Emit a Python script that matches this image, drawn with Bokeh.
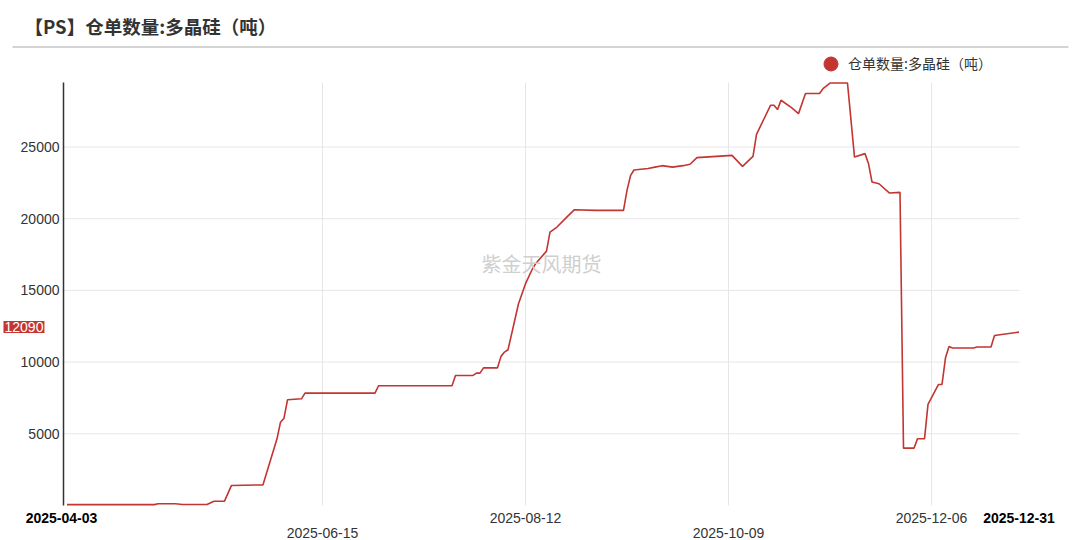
import pandas as pd
from bokeh.plotting import figure
from bokeh.models import Label, Range1d, Legend, LegendItem, ColumnDataSource
from bokeh.core.properties import value
from bokeh.embed import file_html
from bokeh.resources import INLINE

# ---------------- data ----------------
dates = [
    "2025-04-03", "2025-04-28", "2025-04-29", "2025-05-04", "2025-05-06", "2025-05-13",
    "2025-05-15", "2025-05-18", "2025-05-20", "2025-05-29", "2025-06-02", "2025-06-03",
    "2025-06-04", "2025-06-05", "2025-06-09", "2025-06-10", "2025-06-30", "2025-07-01",
    "2025-07-22", "2025-07-23", "2025-07-28", "2025-07-29", "2025-07-30", "2025-07-31",
    "2025-08-04", "2025-08-05", "2025-08-06", "2025-08-07", "2025-08-10", "2025-08-12",
    "2025-08-14", "2025-08-15", "2025-08-18", "2025-08-19", "2025-08-21", "2025-08-24",
    "2025-08-26", "2025-09-01", "2025-09-09", "2025-09-10", "2025-09-11", "2025-09-12",
    "2025-09-16", "2025-09-18", "2025-09-20", "2025-09-23", "2025-09-26", "2025-09-28",
    "2025-09-30", "2025-10-10", "2025-10-13", "2025-10-16", "2025-10-17", "2025-10-21",
    "2025-10-22", "2025-10-23", "2025-10-24", "2025-10-27", "2025-10-29", "2025-10-31",
    "2025-11-04", "2025-11-05", "2025-11-07", "2025-11-12", "2025-11-14", "2025-11-17",
    "2025-11-18", "2025-11-19", "2025-11-21", "2025-11-24", "2025-11-27", "2025-11-28",
    "2025-12-01", "2025-12-02", "2025-12-04", "2025-12-05", "2025-12-08", "2025-12-09",
    "2025-12-10", "2025-12-11", "2025-12-12", "2025-12-18", "2025-12-19", "2025-12-23",
    "2025-12-24", "2025-12-31",
]
stock = [
    60, 60, 120, 120, 70, 70,
    300, 300, 1400, 1440, 4650, 5810,
    6090, 7370, 7440, 7840, 7840, 8350,
    8350, 9070, 9070, 9230, 9230, 9600,
    9600, 10400, 10700, 10860, 14070, 15470,
    16510, 16900, 17740, 19070, 19420, 20160,
    20630, 20580, 20580, 21980, 23000, 23400,
    23500, 23600, 23700, 23600, 23700, 23800,
    24260, 24420, 23650, 24350, 25880, 27910,
    27910, 27610, 28260, 27750, 27330, 28730,
    28730, 29070, 29460, 29460, 24300, 24540,
    23840, 22560, 22440, 21790, 21840, 4000,
    4000, 4650, 4650, 7050, 8440, 8440,
    10300, 11090, 10980, 10980, 11050, 11050,
    11860, 12090,
]
y_ticks = [5000, 10000, 15000, 20000, 25000]
grid_dates = ["2025-06-15", "2025-08-12", "2025-10-09", "2025-12-06"]
row1_labels = ["2025-04-03", "2025-08-12", "2025-12-06", "2025-12-31"]
row2_labels = ["2025-06-15", "2025-10-09"]
bold_labels = ["2025-04-03", "2025-12-31"]
title_text = "【PS】仓单数量:多晶硅（吨）"
series_name = "仓单数量:多晶硅（吨）"
last_label = "12090"
watermark = "紫金天风期货"

RED = "#c23531"
CJK = "Noto Sans CJK SC"
LAT = "Liberation Sans"
GRID = "#e6e6e6"


def ms(s):
    return pd.Timestamp(s).value / 1e6


DAY = 86400000.0
# ---------------- layout (frame = whole canvas) ----------------
W, H = 1080, 540
PL, PR, PT, PB = 63, 1019, 82, 505          # plot area inside the canvas (px)
PX_PER_DAY = 3.5
REF_MS, REF_PX = ms("2025-06-15"), 322.0
Y_TOP = 29500                                # value at the plot area's top edge


def xpx(px):
    return REF_MS + (px - REF_PX) / PX_PER_DAY * DAY


def ypx(py):
    return (PB - py) / (PB - PT) * Y_TOP


X_AXIS, X_END = xpx(PL), xpx(PR)

p = figure(width=W, height=H, x_range=Range1d(xpx(0), xpx(W)),
           y_range=Range1d(ypx(H), ypx(0)),
           output_backend="svg", toolbar_location=None,
           min_border=0, min_border_left=0, min_border_right=0,
           min_border_top=0, min_border_bottom=0)
p.axis.visible = False
p.grid.visible = False
p.outline_line_color = None
p.background_fill_color = "white"
p.border_fill_color = "white"

# grid lines
gx = [ms(d) for d in grid_dates]
p.segment(x0=gx, y0=[0] * len(gx), x1=gx, y1=[Y_TOP] * len(gx),
          line_color=GRID, line_width=1)
p.segment(x0=[X_AXIS] * len(y_ticks), y0=y_ticks, x1=[X_END] * len(y_ticks), y1=y_ticks,
          line_color=GRID, line_width=1)

# y axis line and tick labels
p.segment(x0=[X_AXIS], y0=[0], x1=[X_AXIS], y1=[Y_TOP], line_color="#333333", line_width=1.5)
p.text(x=[X_AXIS] * len(y_ticks), y=y_ticks, text=[str(t) for t in y_ticks],
       x_offset=-4, text_align="right", text_baseline="middle",
       text_font=value(LAT), text_font_size="14px", text_color="#333333")

# watermark
p.add_layout(Label(x=xpx(541), y=ypx(263), text=watermark, text_align="center",
                   text_baseline="middle", text_font=CJK, text_font_size="20px",
                   text_color="#cfcfcf"))

src = ColumnDataSource(data=dict(x=[ms(d) for d in dates], y=stock))
line_r = p.line("x", "y", source=src, line_color=RED, line_width=1.6)

# legend (marker renderer: last point, hidden in the plot, shown in the legend)
marker_r = p.scatter(x=[ms(dates[-1])], y=[stock[-1]], marker="circle", size=14,
                     fill_color=RED, line_color=RED, visible=False)
legend = Legend(items=[LegendItem(label=series_name, renderers=[marker_r])],
                location=(813, H - 45.5 - 35), glyph_width=35, glyph_height=35,
                label_standoff=0, padding=0, margin=0, spacing=0,
                border_line_color=None, background_fill_alpha=0,
                inactive_fill_alpha=0,
                label_text_font=CJK, label_text_font_size="14px",
                label_text_color="#333333")
p.add_layout(legend)

# title and separator
p.add_layout(Label(x=xpx(24), y=ypx(25.5), text=title_text, text_align="left",
                   text_baseline="middle", text_font=CJK, text_font_size="18.5px",
                   text_font_style="bold", text_color="#333333"))
p.segment(x0=[xpx(12)], y0=[ypx(46.5)], x1=[xpx(1068)], y1=[ypx(46.5)],
          line_color="#aaaaaa", line_width=1)

# last value tag
p.add_layout(Label(x=xpx(3), y=ypx(326.5), text=last_label, text_align="left",
                   text_baseline="middle", text_font=LAT, text_font_size="14px",
                   text_color="white", background_fill_color=RED, padding=1))

# x labels (two staggered rows)
for d in row1_labels + row2_labels:
    row_y = ypx(517) if d in row1_labels else ypx(532)
    xx = xpx(61) if d == "2025-04-03" else ms(d)
    bold = d in bold_labels
    p.add_layout(Label(x=xx, y=row_y, text=d, text_align="center", text_baseline="middle",
                       text_font=LAT, text_font_size="14px",
                       text_font_style="bold" if bold else "normal",
                       text_color="#000000" if bold else "#333333"))

open("out.html", "w").write(file_html(p, INLINE))
